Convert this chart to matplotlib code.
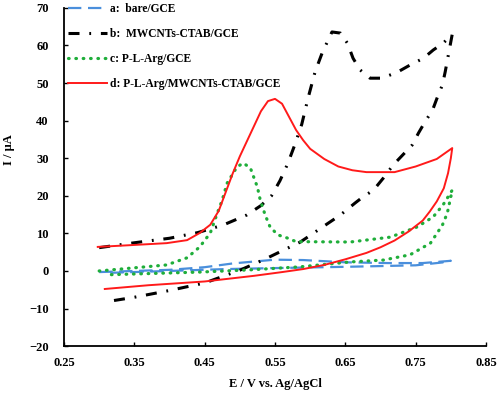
import matplotlib
matplotlib.use("Agg")
import matplotlib.pyplot as plt

# cyclic voltammograms (E in V, I in uA)
a_E = [0.30, 0.35, 0.40, 0.45, 0.49, 0.52, 0.55, 0.59, 0.65, 0.71, 0.76, 0.80,
       0.79, 0.75, 0.70, 0.65, 0.56, 0.48, 0.40, 0.315]
a_I = [-0.3, 0.0, 0.3, 1.0, 2.0, 2.5, 3.0, 2.9, 2.3, 2.1, 2.1, 2.7,
       2.3, 1.5, 1.3, 1.1, 0.8, 0.5, 0.0, -0.5]

b_E = [0.30, 0.35, 0.40, 0.44, 0.476, 0.51, 0.53, 0.545, 0.557, 0.568, 0.578, 0.588,
       0.597, 0.607, 0.617, 0.631, 0.643, 0.653, 0.661, 0.671, 0.685, 0.702, 0.724,
       0.742, 0.761, 0.775, 0.789, 0.802, 0.799, 0.795, 0.792, 0.788, 0.781, 0.774,
       0.763, 0.754, 0.745, 0.718, 0.704, 0.690, 0.675, 0.664, 0.643, 0.586, 0.533,
       0.50, 0.45, 0.40, 0.35, 0.31]
b_I = [6.2, 7.5, 8.7, 10.2, 12.2, 14.9, 17.4, 20.0, 24.0, 28.5, 33.5, 39.0,
       46.0, 53.0, 58.0, 63.6, 63.3, 60.6, 56.6, 53.5, 51.3, 51.3, 52.9,
       54.8, 56.6, 58.8, 60.6, 63.0, 60.0, 56.0, 53.0, 49.5, 46.3, 42.8,
       39.6, 36.7, 33.5, 28.2, 24.7, 21.5, 19.7, 18.1, 14.9, 7.7, 2.9,
       0.2, -3.2, -5.2, -7.0, -8.2]

c_E = [0.30, 0.348, 0.396, 0.425, 0.443, 0.458, 0.468, 0.475, 0.482, 0.496, 0.505,
       0.515, 0.525, 0.529, 0.536, 0.543, 0.554, 0.567, 0.58, 0.657, 0.714, 0.752,
       0.775, 0.789, 0.802, 0.795, 0.788, 0.771, 0.742, 0.704, 0.657, 0.586, 0.515,
       0.443, 0.315]
c_I = [0.0, 0.8, 1.6, 3.5, 6.4, 10.1, 15.4, 18.9, 23.4, 27.7, 28.7,
       27.4, 22.3, 18.9, 14.9, 11.7, 9.6, 8.8, 7.8, 7.7, 9.0, 11.7,
       14.4, 17.6, 21.5, 15.4, 12.2, 7.4, 4.3, 2.9, 2.4, 1.1, 0.3,
       -0.3, -1.0]

d_E = [0.298, 0.348, 0.396, 0.425, 0.443, 0.458, 0.47, 0.48, 0.49, 0.50, 0.51,
       0.52, 0.53, 0.54, 0.55, 0.56, 0.57, 0.58, 0.59, 0.60, 0.62, 0.64,
       0.66, 0.68, 0.72, 0.75, 0.78, 0.802, 0.80, 0.796, 0.79, 0.78, 0.77,
       0.76, 0.74, 0.72, 0.70, 0.68, 0.65, 0.62, 0.59, 0.56, 0.52, 0.45,
       0.37, 0.308]
d_I = [6.4, 6.9, 7.4, 8.2, 10.1, 12.3, 16.0, 21.0, 26.0, 30.5, 34.5,
       38.5, 42.5, 45.2, 45.8, 44.5, 41.0, 37.5, 34.8, 32.5, 29.8, 27.8,
       26.8, 26.3, 26.3, 27.8, 29.8, 32.7, 30.0, 26.0, 22.0, 18.5, 15.8,
       13.4, 10.5, 8.1, 6.3, 4.8, 3.1, 1.6, 0.5, -0.3, -1.3, -2.8,
       -3.8, -4.8]

labels = ["a:  bare/GCE", "b:  MWCNTs-CTAB/GCE", "c: P-L-Arg/GCE", "d: P-L-Arg/MWCNTs-CTAB/GCE"]

plt.rcParams["font.family"] = "Liberation Serif"
plt.rcParams["font.weight"] = "bold"

fig = plt.figure(figsize=(5, 3.96), dpi=100)
ax = fig.add_axes([0.128, 0.126, 0.844, 0.854])

ax.plot(a_E, a_I, color="#4a8fdc", lw=1.6, linestyle=(0, (6, 3)), label=labels[0])
ax.plot(b_E, b_I, color="black", lw=2.2, linestyle=(0, (3.6, 3.2, 0.6, 3.2)), label=labels[1])
ax.plot(c_E, c_I, color="#1fae3a", lw=2.3, linestyle=(0, (0.2, 2.1)),
        dash_capstyle="round", label=labels[2])
ax.plot(d_E, d_I, color="#ff1a1a", lw=1.4, label=labels[3])

ax.set_xlim(0.25, 0.85)
ax.set_ylim(-20, 70)
ax.set_xticks([0.25, 0.35, 0.45, 0.55, 0.65, 0.75, 0.85])
ax.set_xticklabels(["0.25", "0.35", "0.45", "0.55", "0.65", "0.75", "0.85"])
ax.set_yticks(range(-20, 71, 10))
ax.tick_params(direction="in", length=3, width=1, labelsize=9)
ax.tick_params(axis="x", pad=8)
ax.tick_params(axis="y", pad=11)
for s in ["top", "right"]:
    ax.spines[s].set_visible(False)
for s in ["left", "bottom"]:
    ax.spines[s].set_linewidth(1.3)

ax.set_xlabel("E / V vs. Ag/AgCl", fontsize=9, fontweight="bold", labelpad=6)
ax.set_ylabel("I / μA", fontsize=9, fontweight="bold")
ax.yaxis.set_label_coords(-0.116, 0.58)

ax.legend(loc="upper left", bbox_to_anchor=(-0.015, 1.045), frameon=False,
          handlelength=3.4, handletextpad=0.2, labelspacing=1.12,
          prop={"weight": "bold", "size": 8.3})

fig.savefig("out.png", dpi=100)
